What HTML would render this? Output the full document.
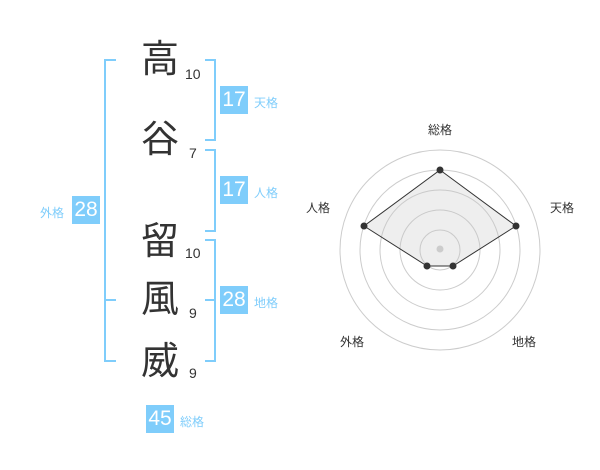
<!DOCTYPE html>
<html><head><meta charset="utf-8"><style>
body{margin:0;width:600px;height:470px;background:#fff;position:relative;overflow:hidden;font-family:"Liberation Sans","Noto Sans CJK JP",sans-serif}
.k{position:absolute;left:140px;width:40px;text-align:center;font-size:38px;line-height:38px;color:#333}
.n{position:absolute;font-size:14px;color:#333;line-height:14px}
.b{position:absolute;background:#7fcdfb;color:#fff;width:28px;height:28px;line-height:28px;text-align:center;font-size:21px}
.l{position:absolute;font-size:12px;color:#7fcdfb;line-height:12px}
.br{position:absolute;border:2px solid #7fcdfb}
.r{position:absolute;font-size:12px;color:#333;line-height:12px}
</style></head><body>
<div class="k" style="top:41px">高</div>
<div class="k" style="top:121px">谷</div>
<div class="k" style="top:223px">留</div>
<div class="k" style="top:281px">風</div>
<div class="k" style="top:343px">威</div>
<div class="n" style="left:185px;top:67px">10</div>
<div class="n" style="left:189px;top:146px">7</div>
<div class="n" style="left:185px;top:246px">10</div>
<div class="n" style="left:189px;top:306px">9</div>
<div class="n" style="left:189px;top:366px">9</div>
<div class="br" style="left:205px;top:59px;width:9px;height:78px;border-left:none"></div>
<div class="br" style="left:205px;top:149px;width:9px;height:79px;border-left:none"></div>
<div class="br" style="left:205px;top:239px;width:9px;height:119px;border-left:none"></div>
<div style="position:absolute;left:205px;top:299px;width:10px;height:2px;background:#7fcdfb"></div>
<div class="br" style="left:104px;top:59px;width:10px;height:299px;border-right:none"></div>
<div style="position:absolute;left:104px;top:299px;width:12px;height:2px;background:#7fcdfb"></div>
<div class="b" style="left:220px;top:86px">17</div><div class="l" style="left:254px;top:97px">天格</div>
<div class="b" style="left:220px;top:176px">17</div><div class="l" style="left:254px;top:187px">人格</div>
<div class="b" style="left:220px;top:286px">28</div><div class="l" style="left:254px;top:297px">地格</div>
<div class="b" style="left:72px;top:196px">28</div><div class="l" style="left:40px;top:207px">外格</div>
<div class="b" style="left:146px;top:405px">45</div><div class="l" style="left:180px;top:416px">総格</div>
<svg style="position:absolute;left:0;top:0" width="600" height="470">
<g fill="none" stroke="#ccc" stroke-width="1">
<circle cx="440" cy="250" r="20"/><circle cx="440" cy="250" r="40"/><circle cx="440" cy="250" r="60"/><circle cx="440" cy="250" r="80"/><circle cx="440" cy="250" r="100"/>
</g>
<polygon points="440,170 516,226 453,266 427,266 364,226" fill="rgba(200,200,200,0.3)" stroke="#333" stroke-width="1"/>
<circle cx="440" cy="249" r="3.5" fill="#ccc"/>
<g fill="#333"><circle cx="440" cy="170" r="3.5"/><circle cx="516" cy="226" r="3.5"/><circle cx="453" cy="266" r="3.5"/><circle cx="427" cy="266" r="3.5"/><circle cx="364" cy="226" r="3.5"/></g>
</svg>
<div class="r" style="left:428px;top:124px">総格</div>
<div class="r" style="left:550px;top:202px">天格</div>
<div class="r" style="left:306px;top:202px">人格</div>
<div class="r" style="left:340px;top:336px">外格</div>
<div class="r" style="left:512px;top:336px">地格</div>
</body></html>
